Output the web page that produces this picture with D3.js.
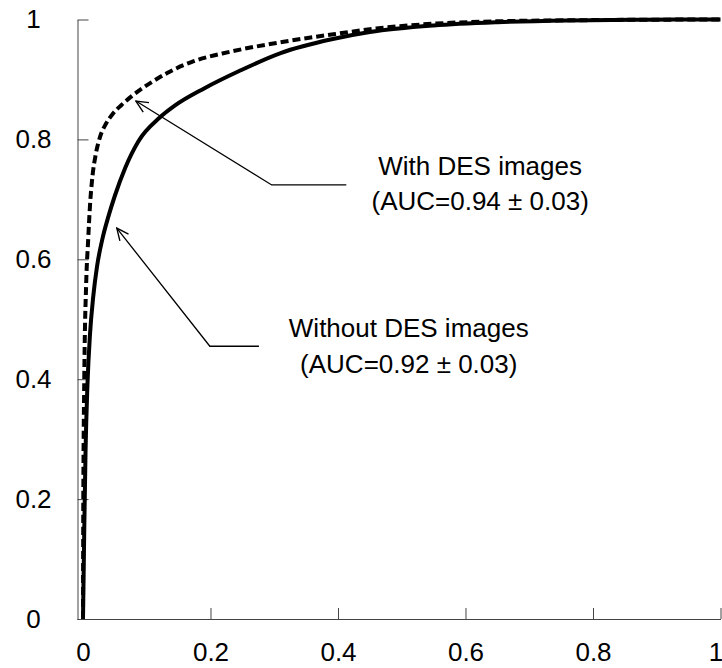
<!DOCTYPE html>
<html>
<head>
<meta charset="utf-8">
<script src="https://cdn.jsdelivr.net/npm/d3@7"></script>
<style>
  body { margin: 0; background: #fff; }
  svg { display: block; font-family: "Liberation Sans", Arial, sans-serif; }
</style>
</head>
<body>
<svg id="chart"></svg>
<script>
// ROC curves
const withDesX = [0, 0.0005, 0.002, 0.005, 0.008, 0.011, 0.015, 0.02, 0.027, 0.036, 0.047, 0.06, 0.075, 0.09, 0.11, 0.136, 0.17, 0.23, 0.31, 0.39, 0.46, 0.55, 0.65, 0.8, 1];
const withDesY = [0, 0.2, 0.4, 0.56, 0.63, 0.69, 0.74, 0.775, 0.805, 0.826, 0.843, 0.857, 0.871, 0.883, 0.897, 0.913, 0.929, 0.946, 0.962, 0.975, 0.985, 0.993, 0.997, 0.999, 1];

const withoutDesX = [0, 0.002, 0.004, 0.007, 0.011, 0.016, 0.022, 0.03, 0.04, 0.05, 0.066, 0.087, 0.12, 0.145, 0.19, 0.245, 0.31, 0.39, 0.45, 0.55, 0.65, 0.76, 0.88, 1];
const withoutDesY = [0, 0.15, 0.28, 0.391, 0.475, 0.537, 0.588, 0.632, 0.672, 0.706, 0.752, 0.797, 0.836, 0.857, 0.885, 0.914, 0.944, 0.967, 0.979, 0.99, 0.9955, 0.9985, 0.9996, 1];

const xTicks = [0, 0.2, 0.4, 0.6, 0.8, 1];
const yTicks = [0, 0.2, 0.4, 0.6, 0.8, 1];

const withLabel = ["With DES images", "(AUC=0.94 \u00b1 0.03)"];
const withoutLabel = ["Without DES images", "(AUC=0.92 \u00b1 0.03)"];

const width = 722;
const height = 668;

const x = d3.scaleLinear().domain([-0.0094, 1]).range([77, 720.5]);
const y = d3.scaleLinear().domain([0, 1]).range([619, 19.5]);

const svg = d3.select("#chart").attr("width", width).attr("height", height);

// Axes, ticks pointing inward like the original
const xAxis = d3.axisBottom(x).tickValues(xTicks).tickFormat(d3.format("~g"))
  .tickSizeInner(-11).tickSizeOuter(0);
const gx = svg.append("g")
  .attr("transform", `translate(0, ${y(0)})`)
  .call(xAxis);
gx.select(".domain").attr("stroke", "#444");
gx.selectAll(".tick line").attr("stroke", "#444");
gx.selectAll(".tick text")
  .attr("y", 24)
  .attr("x", (d) => (d === 1 ? -5 : 0))
  .attr("fill", "#000")
  .style("font-size", "26px")
  .style("font-family", "'Liberation Sans', Arial, sans-serif");

const yAxis = d3.axisLeft(y).tickValues(yTicks).tickFormat(d3.format("~g"))
  .tickSizeInner(-11).tickSizeOuter(0);
const gy = svg.append("g")
  .attr("transform", `translate(${x(-0.0094) + 0.5}, 0)`)
  .call(yAxis);
gy.select(".domain").attr("stroke", "#444");
gy.selectAll(".tick line").attr("stroke", "#444");
gy.selectAll(".tick text")
  .attr("x", -44)
  .attr("text-anchor", "middle")
  .attr("fill", "#000")
  .style("font-size", "26px")
  .style("font-family", "'Liberation Sans', Arial, sans-serif");

// Curves
const line = d3.line()
  .x((d) => x(d[0]))
  .y((d) => y(d[1]))
  .curve(d3.curveMonotoneX);

svg.append("path")
  .datum(withoutDesX.map((v, i) => [v, withoutDesY[i]]))
  .attr("fill", "none")
  .attr("stroke", "#000")
  .attr("stroke-width", 4)
  .attr("d", line);

svg.append("path")
  .datum(withDesX.map((v, i) => [v, withDesY[i]]))
  .attr("fill", "none")
  .attr("stroke", "#000")
  .attr("stroke-width", 4)
  .attr("stroke-dasharray", "8,4")
  .attr("d", line);

// open arrowhead
svg.append("defs").append("marker")
  .attr("id", "arrow")
  .attr("viewBox", "0 0 14 14")
  .attr("refX", 13)
  .attr("refY", 7)
  .attr("markerWidth", 14)
  .attr("markerHeight", 14)
  .attr("markerUnits", "userSpaceOnUse")
  .attr("orient", "auto")
  .append("path")
  .attr("d", "M1,1.5 L13,7 L1,12.5")
  .attr("fill", "none")
  .attr("stroke", "#000")
  .attr("stroke-width", 1.4);

// label position and arrow (end, elbow, tip) in data units
const annotations = [
  { lines: withLabel, at: [0.623, 0.741], path: [[0.413, 0.724], [0.296, 0.724], [0.083, 0.864]] },
  { lines: withoutLabel, at: [0.511, 0.470], path: [[0.276, 0.455], [0.199, 0.455], [0.053, 0.652]] }
];

const plain = d3.line().x((d) => x(d[0])).y((d) => y(d[1]));

annotations.forEach((a) => {
  svg.append("path")
    .attr("d", plain(a.path))
    .attr("fill", "none")
    .attr("stroke", "#000")
    .attr("stroke-width", 1.3)
    .attr("marker-end", "url(#arrow)");

  const t = svg.append("text")
    .attr("x", x(a.at[0]))
    .attr("y", y(a.at[1]))
    .attr("text-anchor", "middle")
    .style("font-size", "26px");
  a.lines.forEach((s, i) => {
    t.append("tspan")
      .attr("x", x(a.at[0]))
      .attr("dy", i === 0 ? 0 : 35.5)
      .text(s);
  });
});
</script>
</body>
</html>
